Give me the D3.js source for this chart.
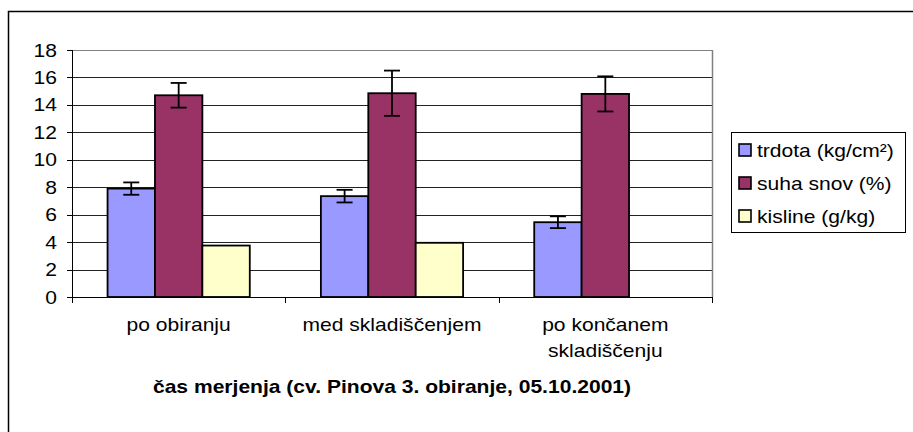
<!DOCTYPE html>
<html>
<head>
<meta charset="utf-8">
<script src="https://cdn.jsdelivr.net/npm/d3@7"></script>
<style>
  body { margin: 0; background: #fff; }
  svg text { font-family: "Liberation Sans", Arial, sans-serif; fill: #000; }
</style>
</head>
<body>
<div id="chart"></div>
<script>
// data
var categories = ["po obiranju", "med skladiščenjem", "po končanem skladiščenju"];
var categoryLines = [["po obiranju"], ["med skladiščenjem"], ["po končanem", "skladiščenju"]];
var seriesNames = ["trdota (kg/cm²)", "suha snov (%)", "kisline (g/kg)"];
var trdota = [7.9, 7.35, 5.45];
var trdotaErr = [0.45, 0.46, 0.43];
var suhaSnov = [14.7, 14.85, 14.8];
var suhaSnovErr = [0.9, 1.65, 1.28];
var kisline = [3.75, 3.95, null];
var kislineErr = [null, null, null];
var yTicks = [0, 2, 4, 6, 8, 10, 12, 14, 16, 18];
var xTitle = "čas merjenja (cv. Pinova 3. obiranje, 05.10.2001)";

var colors = ["#9999ff", "#993366", "#ffffcc"];
var values = [trdota, suhaSnov, kisline];
var errors = [trdotaErr, suhaSnovErr, kislineErr];

var W = 913, H = 432;
var stretch = 1.17; // text in the original is widened

var svg = d3.select("#chart").append("svg")
    .attr("width", W)
    .attr("height", H);

// chart frame (runs off the right and bottom edge)
svg.append("rect")
    .attr("x", 8.5).attr("y", 11.5)
    .attr("width", 920).attr("height", 440)
    .attr("fill", "#fff").attr("stroke", "#000").attr("stroke-width", 1.5);

var y = d3.scaleLinear().domain([0, 18]).range([297, 50]);
var x0 = d3.scaleBand().domain(categories).range([72, 712]);
var x1 = d3.scaleBand().domain(seriesNames).range([0, x0.bandwidth()]).paddingOuter(0.75);

function label(g, x, yy, str, anchor, size, weight) {
  return g.append("text")
      .attr("transform", "translate(" + x + "," + yy + ") scale(" + stretch + ",1)")
      .attr("text-anchor", anchor)
      .attr("font-size", size)
      .attr("font-weight", weight || "normal")
      .text(str);
}

// gridlines
svg.append("g").selectAll("line")
    .data(yTicks.filter(d => d > 0))
    .enter().append("line")
    .attr("x1", 72).attr("x2", 712)
    .attr("y1", d => Math.round(y(d)) + 0.5).attr("y2", d => Math.round(y(d)) + 0.5)
    .attr("stroke", d => d === 18 ? "#808080" : "#222")
    .attr("stroke-width", 1);

// plot area right border
svg.append("line")
    .attr("x1", 712.5).attr("x2", 712.5)
    .attr("y1", Math.round(y(18))).attr("y2", Math.round(y(0)))
    .attr("stroke", "#808080").attr("stroke-width", 1.5);

// bars
var groups = svg.append("g").selectAll("g")
    .data(categories)
    .enter().append("g")
    .attr("transform", d => "translate(" + x0(d) + ",0)");

groups.each(function(cat, ci) {
  var g = d3.select(this);
  seriesNames.forEach(function(s, si) {
    var v = values[si][ci];
    if (v == null) return;
    g.append("rect")
        .attr("x", x1(s))
        .attr("y", y(v))
        .attr("width", x1.bandwidth())
        .attr("height", y(0) - y(v))
        .attr("fill", colors[si])
        .attr("stroke", "#000")
        .attr("stroke-width", 1.8);
    var e = errors[si][ci];
    if (e == null) return;
    var cx = x1(s) + x1.bandwidth() / 2;
    var eb = g.append("g").attr("stroke", "#000").attr("stroke-width", 1.8);
    eb.append("line").attr("x1", cx).attr("x2", cx).attr("y1", y(v + e)).attr("y2", y(v - e));
    eb.append("line").attr("x1", cx - 8).attr("x2", cx + 8).attr("y1", y(v + e)).attr("y2", y(v + e));
    eb.append("line").attr("x1", cx - 8).attr("x2", cx + 8).attr("y1", y(v - e)).attr("y2", y(v - e));
  });
});

// y axis
var yAxis = svg.append("g");
yAxis.append("line")
    .attr("x1", 72.5).attr("x2", 72.5)
    .attr("y1", y(18)).attr("y2", y(0))
    .attr("stroke", "#000");
yAxis.selectAll(".tick")
    .data(yTicks)
    .enter().append("line")
    .attr("x1", 67).attr("x2", 72)
    .attr("y1", d => Math.round(y(d)) + 0.5).attr("y2", d => Math.round(y(d)) + 0.5)
    .attr("stroke", "#000");
yTicks.forEach(function(t) {
  label(yAxis, 57, y(t) + 6.5, String(t), "end", 18);
});

// x axis
var xAxis = svg.append("g");
xAxis.append("line")
    .attr("x1", 72).attr("x2", 712)
    .attr("y1", Math.round(y(0)) + 0.5).attr("y2", Math.round(y(0)) + 0.5)
    .attr("stroke", "#000");
xAxis.selectAll(".tick")
    .data(categories.map(c => x0(c)).concat([x0.range()[1]]))
    .enter().append("line")
    .attr("x1", d => Math.round(d) + 0.5).attr("x2", d => Math.round(d) + 0.5)
    .attr("y1", y(0)).attr("y2", y(0) + 6)
    .attr("stroke", "#000");
categories.forEach(function(c, i) {
  categoryLines[i].forEach(function(line, li) {
    label(xAxis, x0(c) + x0.bandwidth() / 2, 331 + li * 26, line, "middle", 18);
  });
});

// axis title
label(svg, (x0.range()[0] + x0.range()[1]) / 2, 393, xTitle, "middle", 18, "bold");

// legend
var legend = svg.append("g");
legend.append("rect")
    .attr("x", 731.5).attr("y", 132.5)
    .attr("width", 174).attr("height", 100)
    .attr("fill", "#fff").attr("stroke", "#000");
seriesNames.forEach(function(s, i) {
  var cy = 150 + i * 33;
  legend.append("rect")
      .attr("x", 739).attr("y", cy - 6)
      .attr("width", 12).attr("height", 12)
      .attr("fill", colors[i]).attr("stroke", "#000").attr("stroke-width", 1.6);
  label(legend, 757, cy + 6.5, s, "start", 18);
});
</script>
</body>
</html>
